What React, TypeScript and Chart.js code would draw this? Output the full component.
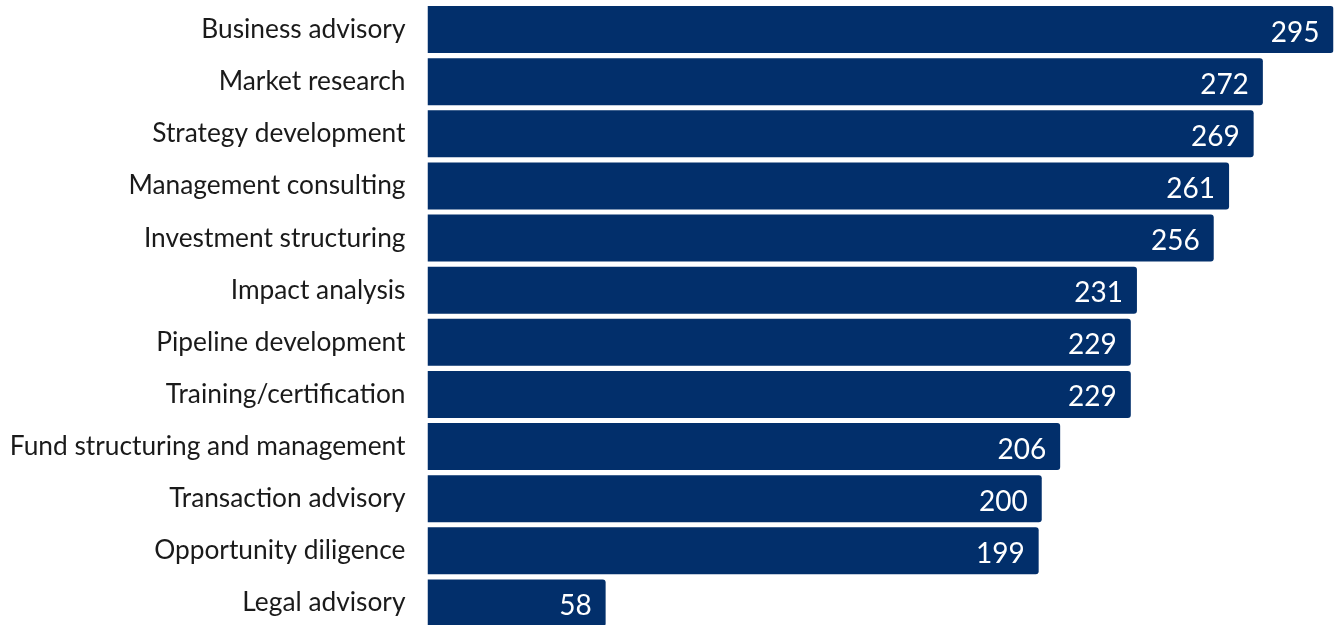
import React, { useEffect, useRef } from "react";
import { Chart, registerables } from "chart.js";

Chart.register(...registerables);

const categories = [
  "Business advisory",
  "Market research",
  "Strategy development",
  "Management consulting",
  "Investment structuring",
  "Impact analysis",
  "Pipeline development",
  "Training/certification",
  "Fund structuring and management",
  "Transaction advisory",
  "Opportunity diligence",
  "Legal advisory",
];
const values = [295, 272, 269, 261, 256, 231, 229, 229, 206, 200, 199, 58];

const BAR_COLOR = "#022f6b";
const FONT = "Lato, 'Open Sans', sans-serif";

const valueLabels = {
  id: "valueLabels",
  afterDatasetsDraw(chart: any) {
    const ctx = chart.ctx;
    const meta = chart.getDatasetMeta(0);
    ctx.save();
    ctx.fillStyle = "#ffffff";
    ctx.font = `28px ${FONT}`;
    ctx.textAlign = "right";
    ctx.textBaseline = "middle";
    meta.data.forEach((bar: any, i: number) => {
      ctx.fillText(String(values[i]), bar.x - 14, bar.y + 3);
    });
    ctx.restore();
  },
};

export default function App() {
  const ref = useRef<HTMLCanvasElement>(null);
  useEffect(() => {
    document.body.style.margin = "0";
    document.body.style.overflow = "hidden";
    const chart = new Chart(ref.current!, {
      type: "bar",
      data: {
        labels: categories,
        datasets: [
          {
            data: values,
            backgroundColor: BAR_COLOR,
            borderRadius: 3,
            borderSkipped: "start",
            categoryPercentage: 0.9,
            barPercentage: 1,
          },
        ],
      },
      options: {
        indexAxis: "y",
        animation: false,
        responsive: false,
        maintainAspectRatio: false,
        layout: { padding: { top: 3.5, right: 1.5, bottom: 0, left: 0 } },
        plugins: { legend: { display: false }, tooltip: { enabled: false } },
        scales: {
          x: {
            display: false,
            min: 0,
            max: 295,
          },
          y: {
            grid: { display: false, drawTicks: false },
            border: { display: false },
            ticks: {
              color: "#1a1a1a",
              font: { family: FONT, size: 26.3 },
              padding: 22,
              autoSkip: false,
            },
            afterFit(scale: any) {
              scale.width = 427.5;
              scale.paddingTop = 0;
              scale.paddingBottom = 0;
            },
          },
        },
      },
      plugins: [valueLabels],
    });
    return () => chart.destroy();
  }, []);
  return (
    <div style={{ position: "absolute", left: 0, top: 0, width: 1335, height: 629 }}>
      <canvas ref={ref} width={1335} height={629} style={{ width: 1335, height: 629 }} />
    </div>
  );
}
